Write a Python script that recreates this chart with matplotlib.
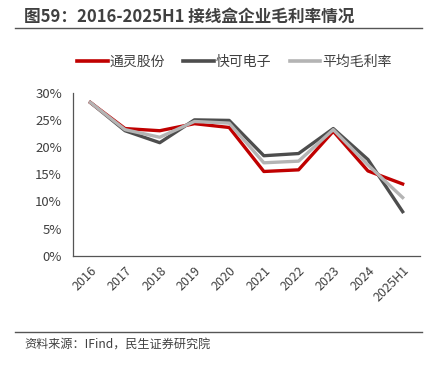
import matplotlib.pyplot as plt
from matplotlib.lines import Line2D

plt.rcParams["font.family"] = ["Noto Sans CJK SC", "DejaVu Sans"]

years = ["2016", "2017", "2018", "2019", "2020", "2021", "2022", "2023", "2024", "2025H1"]
tongling = [28.2, 23.4, 23.0, 24.3, 23.6, 15.5, 15.8, 22.9, 15.6, 13.2]
kuaike = [28.2, 23.0, 20.8, 25.0, 24.9, 18.4, 18.8, 23.4, 17.7, 8.1]
avg_margin = [28.2, 23.2, 21.8, 24.7, 24.4, 17.1, 17.4, 23.2, 16.7, 10.7]

series_names = ["通灵股份", "快可电子", "平均毛利率"]
colors = ["#C00000", "#4D4D4D", "#B4B4B4"]
text_color = "#404040"

fig = plt.figure(figsize=(4.38, 3.67), dpi=100)
ax = fig.add_axes([0.1667, 0.3033, 0.7922, 0.4441])

x = list(range(len(years)))
# dark first, then red, gray on top
ax.plot(x, kuaike, color=colors[1], lw=2.4, zorder=2)
ax.plot(x, tongling, color=colors[0], lw=2.4, zorder=3)
ax.plot(x, avg_margin, color=colors[2], lw=2.4, zorder=4)

ax.set_xlim(-0.5, len(years) - 0.5)
ax.set_ylim(0, 30)
yticks = [0, 5, 10, 15, 20, 25, 30]
ax.set_yticks(yticks)
ax.set_yticklabels([f"{v}%" for v in yticks], fontsize=9.5, color=text_color)
ax.set_xticks(x)
ax.set_xticklabels(years, rotation=45, ha="right", rotation_mode="anchor",
                   fontsize=9, color=text_color)
ax.tick_params(length=0)
ax.tick_params(axis="y", pad=8)
ax.tick_params(axis="x", pad=6)
for s in ["top", "right"]:
    ax.spines[s].set_visible(False)
for s in ["left", "bottom"]:
    ax.spines[s].set_color("#555555")
    ax.spines[s].set_linewidth(0.9)

handles = [Line2D([0], [0], color=c, lw=2.6) for c in colors]
fig.legend(handles, series_names, loc="center", bbox_to_anchor=(0.535, 0.832), ncol=3,
           frameon=False, fontsize=10, handlelength=2.2, handletextpad=0.15,
           columnspacing=1.3, labelcolor=text_color)

fig.text(0.055, 0.953, "图59：2016-2025H1 接线盒企业毛利率情况", fontsize=12,
         fontweight="bold", color=text_color, va="center", ha="left")
fig.add_artist(Line2D([0.034, 0.964], [0.923, 0.923], color="#555555", lw=1.0))
fig.add_artist(Line2D([0.034, 0.964], [0.095, 0.095], color="#555555", lw=1.0))
fig.text(0.055, 0.06, "资料来源：IFind，民生证券研究院", fontsize=8.7,
         color=text_color, va="center", ha="left")

fig.savefig("out.png", dpi=100)
